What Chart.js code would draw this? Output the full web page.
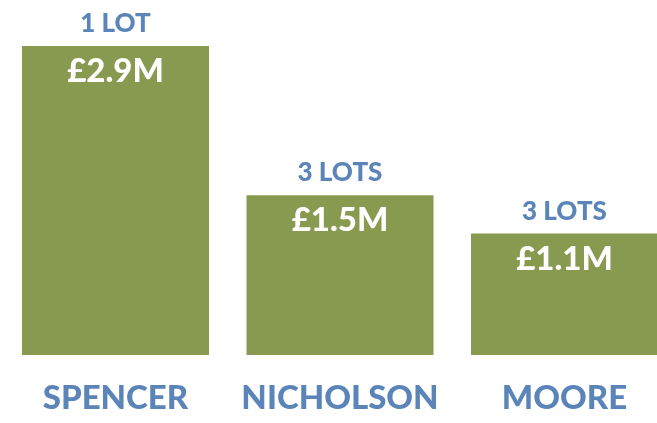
<!DOCTYPE html>
<html>
<head>
<meta charset="utf-8">
<script src="https://cdn.jsdelivr.net/npm/chart.js@4"></script>
<style>
  html, body { margin: 0; padding: 0; background: #fff; overflow: hidden; }
  #wrap { width: 657px; height: 423px; overflow: hidden; }
</style>
</head>
<body>
<div id="wrap"><canvas id="myChart" width="700" height="423"></canvas></div>
<script>
const names = ['SPENCER', 'NICHOLSON', 'MOORE'];
const values = [2.9, 1.5, 1.14]; // £ millions
const lotLabels = ['1 LOT', '3 LOTS', '3 LOTS'];
const valueLabels = ['£2.9M', '£1.5M', '£1.1M'];

const blue = '#5b84b8';
const green = '#879a4f';

// text above and inside each bar
const barText = {
    id: 'barText',
    afterDatasetsDraw(chart) {
        const ctx = chart.ctx;
        const meta = chart.getDatasetMeta(0);
        ctx.save();
        ctx.textAlign = 'center';
        ctx.textBaseline = 'alphabetic';
        meta.data.forEach((bar, i) => {
            ctx.fillStyle = blue;
            ctx.font = '900 26px Lato';
            ctx.fillText(lotLabels[i], bar.x, bar.y - 14);
            ctx.fillStyle = '#ffffff';
            ctx.font = '900 33px Lato';
            ctx.fillText(valueLabels[i], bar.x, bar.y + 36);
        });
        ctx.restore();
    }
};

const ctx = document.getElementById('myChart').getContext('2d');
const myChart = new Chart(ctx, {
    type: 'bar',
    data: {
        labels: names,
        datasets: [{
            data: values,
            backgroundColor: green,
            borderWidth: 0,
            categoryPercentage: 1,
            barPercentage: 0.833
        }]
    },
    options: {
        responsive: false,
        animation: false,
        layout: { padding: { left: 3.25, right: 23.25, top: 0, bottom: 0 } },
        plugins: {
            legend: { display: false },
            tooltip: { enabled: false }
        },
        scales: {
            x: {
                grid: { display: false, drawTicks: false },
                border: { display: false },
                ticks: {
                    color: blue,
                    font: { family: 'Lato', size: 33, weight: '900' },
                    padding: 24
                },
                afterFit(scale) { scale.height = 68; }
            },
            y: {
                display: false,
                min: 0,
                max: 3.332
            }
        }
    },
    plugins: [barText]
});
</script>
</body>
</html>
